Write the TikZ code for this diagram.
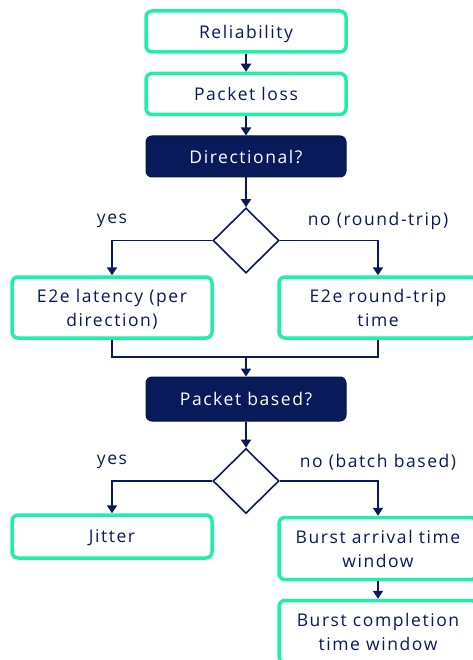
\documentclass[tikz,border=0pt]{standalone}
\usepackage{fontspec}
\setmainfont[LetterSpace=9]{Open Sans}
\usetikzlibrary{arrows.meta,shapes.geometric}
\definecolor{navy}{RGB}{8,26,90}
\definecolor{mint}{RGB}{30,240,170}
\begin{document}
\begin{tikzpicture}[x=1pt,y=-1pt,
  font=\fontsize{17.5}{24}\selectfont,
  lbox/.style={draw=mint,line width=3.5pt,rounded corners=6pt,fill=white,text=navy,align=center,inner sep=0pt,text depth=0pt},
  dbox/.style={draw=navy!80!black,line width=1pt,rounded corners=6pt,fill=navy,text=white,align=center,inner sep=0pt,text depth=0pt},
  dia/.style={draw=navy,line width=1.6pt,diamond,minimum width=66pt,minimum height=65pt,inner sep=0pt},
  conn/.style={draw=navy,line width=1.8pt},
  arr/.style={conn,-{Triangle[width=10pt,length=8pt]}},
  lbl/.style={text=navy}]
\useasboundingbox (0,0) rectangle (472,660);
\node[lbox,minimum width=200pt,minimum height=41pt] (rel) at (246,31.5) {Reliability};
\node[lbox,minimum width=200pt,minimum height=41pt] (pl) at (246,94) {Packet loss};
\node[dbox,minimum width=200pt,minimum height=41pt] (dir) at (246,156.5) {Directional?};
\node[dia] (d1) at (246,240.5) {};
\node[lbox,minimum width=200pt,minimum height=61pt] (lat) at (112,307.5) {E2e latency (per\\direction)};
\node[lbox,minimum width=198pt,minimum height=61pt] (rtt) at (378,307.5) {E2e round-trip\\time};
\coordinate (m) at (246,357);
\node[dbox,minimum width=200pt,minimum height=44pt] (pb) at (246,399) {Packet based?};
\node[dia] (d2) at (246,481) {};
\node[lbox,minimum width=200pt,minimum height=43pt] (jit) at (112,536.5) {Jitter};
\node[lbox,minimum width=198pt,minimum height=62pt] (bat) at (378,548.5) {Burst arrival time\\window};
\node[lbox,minimum width=198pt,minimum height=62pt] (bct) at (378,631.5) {Burst completion\\time window};
\node[lbl] (y1) at (112,221) {yes};
\node[lbl] (n1) at (378,221) {no (round-trip)};
\node[lbl] (y2) at (112,462) {yes};
\node[lbl] (n2) at (378,462) {no (batch based)};
\draw[arr] (rel) -- (pl);
\draw[arr] (pl) -- (dir);
\draw[arr] (dir) -- (d1);
\draw[arr] (d1.west) -| (lat.north);
\draw[arr] (d1.east) -| (rtt.north);
\draw[conn] (lat.south) |- (m) -| (rtt.south);
\draw[arr] (m) -- (pb);
\draw[arr] (pb) -- (d2);
\draw[arr] (d2.west) -| (jit.north);
\draw[arr] (d2.east) -| (bat.north);
\draw[arr] (bat) -- (bct);
\end{tikzpicture}
\end{document}
